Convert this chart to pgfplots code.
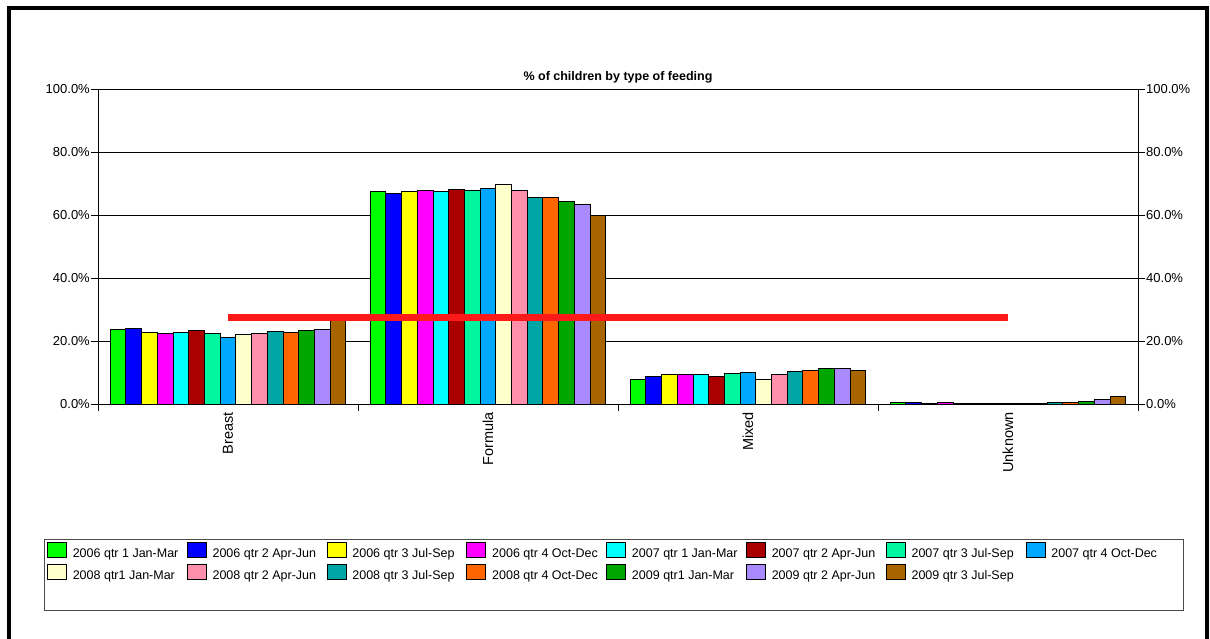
\documentclass[border=0pt]{standalone}
\usepackage{fontspec}
\setmainfont{Liberation Sans}
\setsansfont{Liberation Sans}
\usepackage{pgfplots}
\usepackage{pgfplotstable}
\pgfplotsset{compat=1.18}

\definecolor{c1}{HTML}{00FF00}
\definecolor{c2}{HTML}{0000FF}
\definecolor{c3}{HTML}{FFFF00}
\definecolor{c4}{HTML}{FF00FF}
\definecolor{c5}{HTML}{00FFFF}
\definecolor{c6}{HTML}{AA0000}
\definecolor{c7}{HTML}{00F5A0}
\definecolor{c8}{HTML}{00A8FF}
\definecolor{c9}{HTML}{FFFFCC}
\definecolor{c10}{HTML}{FF8FAB}
\definecolor{c11}{HTML}{00A6A6}
\definecolor{c12}{HTML}{FF6600}
\definecolor{c13}{HTML}{00A600}
\definecolor{c14}{HTML}{A98AFF}
\definecolor{c15}{HTML}{A86400}
\definecolor{redline}{HTML}{FF1A1A}

\pgfplotstableread{
x s1 s2 s3 s4 s5 s6 s7 s8 s9 s10 s11 s12 s13 s14 s15
0 23.7 24.0 22.6 22.4 22.6 23.3 22.3 21.0 22.0 22.3 23.0 22.6 23.3 23.7 27.0
1 67.4 66.8 67.4 67.7 67.4 68.1 67.7 68.5 69.7 67.7 65.7 65.7 64.3 63.4 60.0
2 7.8 8.7 9.3 9.3 9.3 8.7 9.6 9.9 7.9 9.3 10.3 10.7 11.2 11.2 10.6
3 0.4 0.4 0.1 0.4 0.1 0.1 0.1 0.1 0.1 0.1 0.4 0.4 0.8 1.5 2.3
}\feeddata

\newcommand{\legbox}[1]{\makebox[108pt][l]{#1}}

\begin{document}
\begin{tikzpicture}
\begin{axis}[
  at={(98pt,-404pt)}, anchor=south west,
  width=1040pt, height=315pt, scale only axis,
  xmin=-0.5, xmax=3.5, ymin=0, ymax=100,
  ybar=0pt, bar width=15.7pt,
  axis x line*=bottom, axis y line*=left,
  axis line style={black, line width=0.9pt},
  tick align=outside, major tick length=7pt,
  ytick={0,20,40,60,80,100},
  /pgf/number format/assume math mode=true,
  yticklabel={\pgfmathprintnumber[fixed,fixed zerofill,precision=1]{\tick}\%},
  yticklabel style={font=\fontsize{13}{15}\selectfont, inner sep=1pt},
  ymajorgrids, grid style={black, line width=0.8pt},
  xtick={0,1,2,3},
  xticklabels={Breast,Formula,Mixed,Unknown},
  xtick style={draw=none},
  x tick label style={rotate=90, anchor=east, font=\fontsize{14.5}{16}\selectfont, inner sep=1pt},
  extra x ticks={-0.5,0.5,1.5,2.5,3.5},
  extra x tick labels={},
  extra x tick style={xtick style={draw=black, line width=0.8pt}, grid=none},
  ytick style={black, line width=0.8pt},
  title={\% of children by type of feeding},
  title style={at={(0.5,1)}, anchor=base, yshift=2.5pt, inner sep=0pt, font=\bfseries\fontsize{12.5}{14}\selectfont},
  legend columns=8,
  legend style={at={(-0.04904,-0.4371)}, anchor=north west, draw=none, fill=none,
    inner sep=0pt, outer sep=0pt, row sep=3.3pt,
    nodes={inner sep=0pt, text height=9.4pt, text depth=2.7pt, font=\fontsize{12.5}{15}\selectfont},
    /tikz/every odd column/.append style={column sep=6pt},
    /tikz/every even column/.append style={column sep=6pt}},
  legend image code/.code={\draw[#1, draw=black, line width=0.8pt] (0pt,-2.9pt) rectangle (19pt,12.1pt);},
]
\addplot[fill=c1, draw=black, line width=0.9pt] table[x=x, y=s1] {\feeddata};
\addplot[fill=c2, draw=black, line width=0.9pt] table[x=x, y=s2] {\feeddata};
\addplot[fill=c3, draw=black, line width=0.9pt] table[x=x, y=s3] {\feeddata};
\addplot[fill=c4, draw=black, line width=0.9pt] table[x=x, y=s4] {\feeddata};
\addplot[fill=c5, draw=black, line width=0.9pt] table[x=x, y=s5] {\feeddata};
\addplot[fill=c6, draw=black, line width=0.9pt] table[x=x, y=s6] {\feeddata};
\addplot[fill=c7, draw=black, line width=0.9pt] table[x=x, y=s7] {\feeddata};
\addplot[fill=c8, draw=black, line width=0.9pt] table[x=x, y=s8] {\feeddata};
\addplot[fill=c9, draw=black, line width=0.9pt] table[x=x, y=s9] {\feeddata};
\addplot[fill=c10, draw=black, line width=0.9pt] table[x=x, y=s10] {\feeddata};
\addplot[fill=c11, draw=black, line width=0.9pt] table[x=x, y=s11] {\feeddata};
\addplot[fill=c12, draw=black, line width=0.9pt] table[x=x, y=s12] {\feeddata};
\addplot[fill=c13, draw=black, line width=0.9pt] table[x=x, y=s13] {\feeddata};
\addplot[fill=c14, draw=black, line width=0.9pt] table[x=x, y=s14] {\feeddata};
\addplot[fill=c15, draw=black, line width=0.9pt] table[x=x, y=s15] {\feeddata};
\legend{\legbox{2006 qtr 1 Jan-Mar},\legbox{2006 qtr 2 Apr-Jun},\legbox{2006 qtr 3 Jul-Sep},\legbox{2006 qtr 4 Oct-Dec},\legbox{2007 qtr 1 Jan-Mar},\legbox{2007 qtr 2 Apr-Jun},\legbox{2007 qtr 3 Jul-Sep},\legbox{2007 qtr 4 Oct-Dec},\legbox{2008 qtr1 Jan-Mar},\legbox{2008 qtr 2 Apr-Jun},\legbox{2008 qtr 3 Jul-Sep},\legbox{2008 qtr 4 Oct-Dec},\legbox{2009 qtr1 Jan-Mar},\legbox{2009 qtr 2 Apr-Jun},\legbox{2009 qtr 3 Jul-Sep}}
\end{axis}
\begin{axis}[
  at={(98pt,-404pt)}, anchor=south west,
  width=1040pt, height=315pt, scale only axis,
  xmin=-0.5, xmax=3.5, ymin=0, ymax=100,
  axis x line=none, axis y line*=right,
  axis line style={black, line width=0.9pt},
  tick align=outside, major tick length=7pt,
  ytick={0,20,40,60,80,100},
  ytick style={black, line width=0.8pt},
  /pgf/number format/assume math mode=true,
  yticklabel={\pgfmathprintnumber[fixed,fixed zerofill,precision=1]{\tick}\%},
  yticklabel style={font=\fontsize{13}{15}\selectfont, inner sep=1pt},
]
\addplot[draw=redline, line width=7.5pt, mark=none] coordinates {(0,27.4) (3,27.4)};
\end{axis}
\draw[black!70, line width=1pt] (44pt,-539pt) rectangle (1183pt,-610pt);
\draw[black, line width=4pt] (9.2pt,-660pt) -- (9.2pt,-8pt) -- (1206.5pt,-8pt) -- (1206.5pt,-660pt);
\pgfresetboundingbox
\path[use as bounding box] (0,0) rectangle (1210pt,-639pt);
\end{tikzpicture}
\end{document}
